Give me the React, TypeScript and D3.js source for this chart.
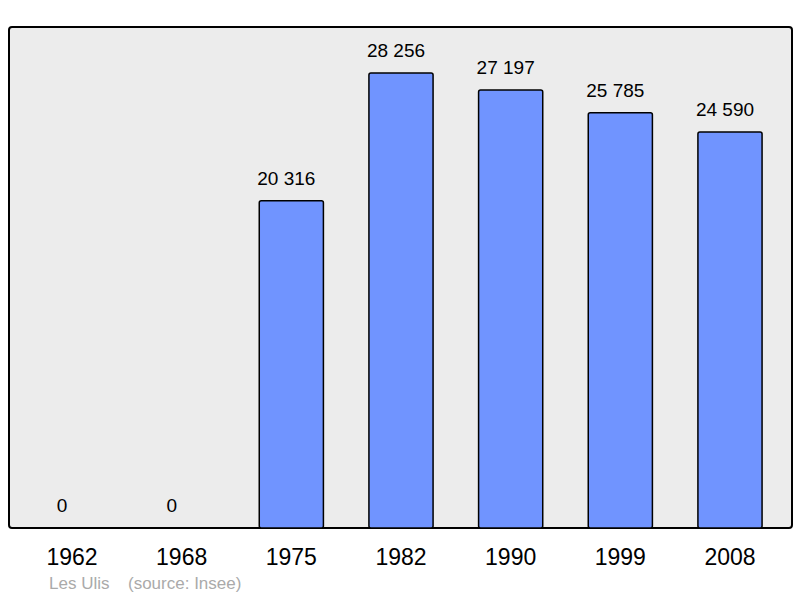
import * as d3 from 'd3'

const years = ['1962', '1968', '1975', '1982', '1990', '1999', '2008']
const population = [0, 0, 20316, 28256, 27197, 25785, 24590]
const town = 'Les Ulis'
const source = '(source: Insee)'

const W = 800
const H = 598
const panel = { left: 9, top: 27, right: 792, bottom: 528 }

const fmt = (v: number) => d3.format(',')(v).replace(/,/g, ' ')

export default function App() {
  const x = d3
    .scaleBand()
    .domain(years)
    .range([18, 784])
    .paddingInner(0.415)
    .paddingOuter(0.2)
  const y = d3.scaleLinear().domain([0, 31112]).range([panel.bottom, panel.top])

  return (
    <svg
      width={W}
      height={H}
      style={{ position: 'absolute', left: 0, top: 0, fontFamily: 'Liberation Sans, Arial, sans-serif' }}
    >
      <rect width={W} height={H} fill='#fff' />
      <rect
        x={panel.left}
        y={panel.top}
        width={panel.right - panel.left}
        height={panel.bottom - panel.top}
        rx={3}
        fill='#ececec'
        stroke='#000'
        strokeWidth={2}
      />
      {/* bars */}
      {years.map((yr, i) =>
        population[i] > 0 ? (
          <rect
            key={yr}
            x={x(yr)}
            y={y(population[i])}
            width={x.bandwidth()}
            height={y(0) - y(population[i])}
            rx={2}
            fill='#7094ff'
            stroke='#000'
            strokeWidth={1.5}
          />
        ) : null
      )}
      {/* value labels */}
      {years.map((yr, i) => (
        <text
          key={yr}
          x={(x(yr) as number) + x.bandwidth() / 2 - (population[i] > 0 ? 5 : 10)}
          y={y(population[i]) - 16}
          textAnchor='middle'
          fontSize={19}
          fill='#000'
        >
          {fmt(population[i])}
        </text>
      ))}
      {/* year labels */}
      {years.map((yr) => (
        <text
          key={yr}
          x={(x(yr) as number) + x.bandwidth() / 2}
          y={565}
          textAnchor='middle'
          fontSize={23}
          fill='#000'
        >
          {yr}
        </text>
      ))}
      <text x={49} y={589} fontSize={17} fill='#aaa'>
        {town}
      </text>
      <text x={128} y={589} fontSize={17} fill='#aaa'>
        {source}
      </text>
    </svg>
  )
}
